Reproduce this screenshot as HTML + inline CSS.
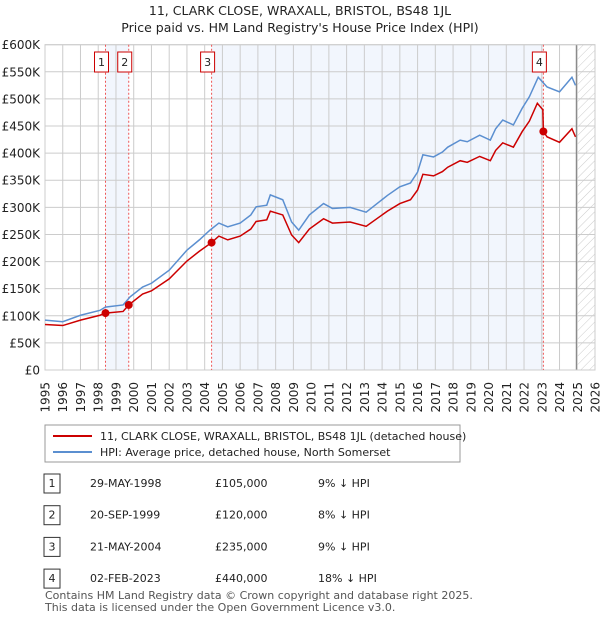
<!DOCTYPE html>
<html><head><meta charset="utf-8"><style>
body{margin:0;background:#fff;font-family:"Liberation Sans","DejaVu Sans",sans-serif;}
svg text{font-family:"DejaVu Sans","Liberation Sans",sans-serif;}
</style></head><body>
<svg id="c" width="600" height="620" xmlns="http://www.w3.org/2000/svg">
<defs><pattern id="hatch" width="6" height="6" patternUnits="userSpaceOnUse" patternTransform="rotate(45)"><line x1="0" y1="0" x2="0" y2="6" stroke="#ccc" stroke-width="1"/></pattern></defs>
<text x="300" y="15" text-anchor="middle" font-size="12.5" fill="#222">11, CLARK CLOSE, WRAXALL, BRISTOL, BS48 1JL</text>
<text x="300" y="32" text-anchor="middle" font-size="12.5" fill="#222">Price paid vs. HM Land Registry's House Price Index (HPI)</text>
<g id="plot"></g>
<g id="legend">
<rect x="45" y="425" width="415" height="37" fill="#fff" stroke="#999"/>
<line x1="53" y1="436" x2="92" y2="436" stroke="#cc0000" stroke-width="2"/>
<text x="100" y="440" font-size="11" fill="#222">11, CLARK CLOSE, WRAXALL, BRISTOL, BS48 1JL (detached house)</text>
<line x1="53" y1="452" x2="92" y2="452" stroke="#5b8fd0" stroke-width="2"/>
<text x="100" y="456" font-size="11" fill="#222">HPI: Average price, detached house, North Somerset</text>
</g>
<g id="table" font-size="11" fill="#222"></g>
<text x="45" y="599" font-size="11" fill="#555">Contains HM Land Registry data © Crown copyright and database right 2025.</text>
<text x="45" y="611" font-size="11" fill="#555">This data is licensed under the Open Government Licence v3.0.</text>
</svg>
<script>
const hpiYears=[1995,1996,1997,1998.1,1998.4,1999.4,1999.8,2000.5,2001,2002,2003,2003.7,2004.3,2004.8,2005.3,2006,2006.6,2006.9,2007.5,2007.7,2008.4,2008.9,2009.3,2009.9,2010.7,2011.2,2012.2,2013.1,2014.3,2015,2015.6,2016,2016.3,2016.9,2017.4,2017.7,2018.4,2018.8,2019.5,2020.1,2020.4,2020.8,2021.4,2021.9,2022.3,2022.8,2023.3,2024,2024.7,2024.9];
const hpiValues=[92,89,101,110,116,120,135,153,160,184,221,240,258,271,264,271,286,301,304,323,314,273,258,286,307,298,300,291,322,338,345,365,397,393,402,411,424,421,433,424,445,461,452,483,504,540,522,513,540,525];
const priceYears=[1995,1996,1997,1998.1,1998.41,1999.4,1999.72,2000.5,2001,2002,2003,2003.7,2004.39,2004.8,2005.3,2006,2006.6,2006.9,2007.5,2007.7,2008.4,2008.9,2009.3,2009.9,2010.7,2011.2,2012.2,2013.1,2014.3,2015,2015.6,2016,2016.3,2016.9,2017.4,2017.7,2018.4,2018.8,2019.5,2020.1,2020.4,2020.8,2021.4,2021.9,2022.3,2022.75,2023.06,2023.09,2023.3,2024,2024.7,2024.9];
const priceValues=[84,82,92,101,105,108,120,140,146,168,201,219,235,247,240,247,260,274,277,293,286,249,235,260,279,271,273,265,293,307,314,332,361,358,366,374,386,383,394,386,405,419,411,440,459,492,480,440,430,420,445,430];
const saleYears=[1998.41,1999.72,2004.39,2023.09];
const saleValues=[105,120,235,440];
const saleLabels=["1","2","3","4"];
const saleDates=["29-MAY-1998","20-SEP-1999","21-MAY-2004","02-FEB-2023"];
const salePrices=["£105,000","£120,000","£235,000","£440,000"];
const saleHpi=["9% ↓ HPI","8% ↓ HPI","9% ↓ HPI","18% ↓ HPI"];
const yTicks=[0,50,100,150,200,250,300,350,400,450,500,550,600];
const yTickLabels=["£0","£50K","£100K","£150K","£200K","£250K","£300K","£350K","£400K","£450K","£500K","£550K","£600K"];
const xTicks=[1995,1996,1997,1998,1999,2000,2001,2002,2003,2004,2005,2006,2007,2008,2009,2010,2011,2012,2013,2014,2015,2016,2017,2018,2019,2020,2021,2022,2023,2024,2025,2026];
const hatchStart=2024.95;

const NS="http://www.w3.org/2000/svg";
const X0=45,X1=595,Y0=370,Y1=44.7;
const x=y=>X0+(y-1995)/31*(X1-X0);
const yv=v=>Y0-v/600*(Y0-Y1);
const plot=document.getElementById('plot');
function mk(tag,attrs,parent){const e=document.createElementNS(NS,tag);for(const k in attrs)e.setAttribute(k,attrs[k]);(parent||plot).appendChild(e);return e;}
for(const [a,b] of [[saleYears[0],saleYears[1]],[saleYears[2],saleYears[3]]]){
 const r=mk('rect',{x:x(a),y:Y1,width:x(b)-x(a),height:Y0-Y1,fill:'#f2f6fd'});
 
 
}
const hr=mk('rect',{x:x(hatchStart),y:Y1,width:X1-x(hatchStart),height:Y0-Y1,fill:'url(#hatch)'});


yTicks.forEach((t,i)=>{
 mk('line',{x1:X0,x2:X1,y1:yv(t),y2:yv(t),stroke:'#cccccc','stroke-width':1});
 const tx=mk('text',{x:40,y:yv(t)+4.5,'text-anchor':'end','font-size':12,fill:'#222'});
 tx.textContent=yTickLabels[i];
 
 
});
xTicks.forEach(t=>{
 mk('line',{x1:x(t),x2:x(t),y1:Y1,y2:Y0,stroke:'#cccccc','stroke-width':1});
 const tx=mk('text',{x:0,y:0,'text-anchor':'end','font-size':12,fill:'#222',transform:`translate(${x(t)+4.5},382) rotate(-90)`});
 tx.textContent=t;
 
 
});
mk('line',{x1:x(hatchStart),x2:x(hatchStart),y1:Y1,y2:Y0,stroke:'#888','stroke-width':1.2});
mk('rect',{x:X0,y:Y1,width:X1-X0,height:Y0-Y1,fill:'none',stroke:'#ccc'});
saleYears.forEach(s=>mk('line',{x1:x(s),x2:x(s),y1:Y1,y2:Y0,stroke:'#ee5555','stroke-width':1,'stroke-dasharray':'2,2'}));
const hl=mk('polyline',{points:hpiYears.map((t,i)=>x(t)+','+yv(hpiValues[i])).join(' '),fill:'none',stroke:'#5b8fd0','stroke-width':1.5});


const pl=mk('polyline',{points:priceYears.map((t,i)=>x(t)+','+yv(priceValues[i])).join(' '),fill:'none',stroke:'#cc0000','stroke-width':1.5});


saleYears.forEach((s,i)=>{
 const c=mk('circle',{cx:x(s),cy:yv(saleValues[i]),r:4,fill:'#cc0000'});
 
 
 const b=mk('rect',{x:x(s)-11,y:52,width:14,height:20,fill:'#fff',stroke:'#cc0000'});
 
 
 const t=mk('text',{x:x(s)-4,y:66,'text-anchor':'middle','font-size':11,fill:'#222'});
 t.textContent=saleLabels[i];
 
 
});
const tb=document.getElementById('table');
saleYears.forEach((s,i)=>{
 const yy=487+i*31.7;
 const b=mk('rect',{x:44,y:yy-13,width:16,height:19,fill:'#fff',stroke:'#333'},tb);
 
 
 const vals=[[52,saleLabels[i],'middle'],[90,saleDates[i],'start'],[215,salePrices[i],'start'],[318,saleHpi[i],'start']];
 vals.forEach(([xx,txt,an])=>{
  const t=mk('text',{x:xx,y:yy,'text-anchor':an,'font-size':11,fill:'#222'},tb);
  t.textContent=txt;
  
  
 });
});
</script>
</body></html>
